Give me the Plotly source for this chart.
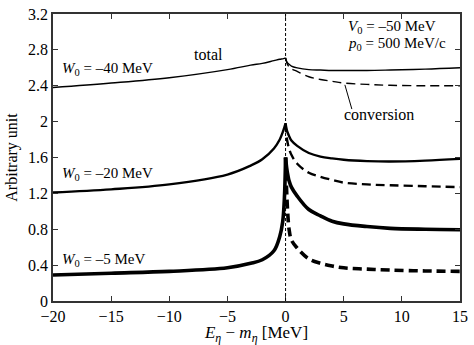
import plotly.graph_objects as go

# energy grids (MeV), below and above threshold
x_below = [-20, -15, -10, -5, -3, -2, -1, -0.5, -0.25, -0.1, 0]
x_above = [0, 0.1, 0.2, 0.3, 0.5, 1, 2, 3, 4, 5, 7, 9, 12, 15]

# W0 = -40 MeV
total_w40_below = [2.38, 2.43, 2.49, 2.58, 2.63, 2.65, 2.68, 2.695, 2.70, 2.705, 2.71]
total_w40_above = [2.71, 2.67, 2.65, 2.64, 2.62, 2.60, 2.58, 2.575, 2.57, 2.57, 2.57, 2.575, 2.585, 2.60]
conv_w40_above = [2.71, 2.66, 2.63, 2.61, 2.59, 2.56, 2.50, 2.47, 2.45, 2.43, 2.415, 2.405, 2.40, 2.40]

# W0 = -20 MeV
total_w20_below = [1.21, 1.245, 1.30, 1.41, 1.51, 1.58, 1.70, 1.80, 1.88, 1.94, 1.98]
total_w20_above = [1.98, 1.91, 1.87, 1.84, 1.79, 1.73, 1.65, 1.61, 1.59, 1.575, 1.56, 1.555, 1.565, 1.585]
conv_w20_above = [1.98, 1.82, 1.75, 1.70, 1.63, 1.53, 1.43, 1.385, 1.35, 1.32, 1.30, 1.29, 1.28, 1.27]

# W0 = -5 MeV
total_w5_below = [0.29, 0.31, 0.33, 0.37, 0.42, 0.46, 0.56, 0.72, 0.88, 1.15, 1.6]
total_w5_above = [1.6, 1.48, 1.40, 1.34, 1.27, 1.17, 1.02, 0.95, 0.89, 0.86, 0.83, 0.81, 0.80, 0.795]
conv_w5_above = [1.6, 1.2, 0.95, 0.80, 0.68, 0.59, 0.47, 0.42, 0.39, 0.37, 0.355, 0.345, 0.335, 0.33]

x_ticks = [-20, -15, -10, -5, 0, 5, 10, 15]
y_ticks = [0, 0.4, 0.8, 1.2, 1.6, 2, 2.4, 2.8, 3.2]
y_labels = ['0', '0.4', '0.8', '1.2', '1.6', '2', '2.4', '2.8', '3.2']

serif = 'Liberation Serif, Times New Roman, serif'

fig = go.Figure()

curves = [
    (total_w40_below, total_w40_above, conv_w40_above, 1.4),
    (total_w20_below, total_w20_above, conv_w20_above, 2.4),
    (total_w5_below, total_w5_above, conv_w5_above, 3.6),
]
for below, above, conv, lw in curves:
    # total, drawn in two pieces so the cusp at threshold stays sharp
    fig.add_trace(go.Scatter(x=x_below, y=below, mode='lines', line_shape='spline',
                             line=dict(color='black', width=lw), showlegend=False))
    fig.add_trace(go.Scatter(x=x_above, y=above, mode='lines', line_shape='spline',
                             line=dict(color='black', width=lw), showlegend=False))
    # conversion part (dashed)
    fig.add_trace(go.Scatter(x=x_above, y=conv, mode='lines', line_shape='spline',
                             line=dict(color='black', width=lw, dash='9px,5px'), showlegend=False))

# threshold line
fig.add_shape(type='line', x0=0, x1=0, y0=0, y1=3.2, xref='x', yref='y',
              line=dict(color='black', width=1, dash='3px,2px'))

# leader line for "conversion"
fig.add_shape(type='line', x0=5.1, x1=5.7, y0=2.41, y1=2.14, xref='x', yref='y',
              line=dict(color='black', width=1))

def label(x, y, text, anchor='left', size=16):
    fig.add_annotation(x=x, y=y, text=text, showarrow=False, xanchor=anchor,
                       font=dict(family=serif, size=size, color='black'))

label(-19.4, 2.59, '<i>W</i><sub>0</sub> = \u201340 MeV', size=15)
label(-19.4, 1.42, '<i>W</i><sub>0</sub> = \u201320 MeV', size=15)
label(-19.4, 0.46, '<i>W</i><sub>0</sub> = \u20135 MeV', size=15)
label(-6.6, 2.75, 'total', anchor='center')
label(8.0, 2.08, 'conversion', anchor='center')
label(5.2, 3.06, '<i>V</i><sub>0</sub> = \u201350 MeV', size=15)
label(5.2, 2.86, '<i>p</i><sub>0</sub> = 500 MeV/c', size=15)

axis_common = dict(showgrid=False, zeroline=False, showline=True, linecolor='#333333',
                   linewidth=1.5, mirror='ticks', ticks='inside', ticklen=5,
                   tickcolor='#333333', tickfont=dict(family=serif, size=16, color='black'),
                   ticklabeloverflow='allow')

fig.update_xaxes(range=[-20, 15], tickvals=x_ticks,
                 ticktext=[str(v).replace('-', '\u2212') for v in x_ticks],
                 title=dict(text='<i>E<sub>\u03b7</sub></i> \u2212 <i>m<sub>\u03b7</sub></i> [MeV]',
                            font=dict(family=serif, size=17, color='black'), standoff=2),
                 **axis_common)
fig.update_yaxes(range=[0, 3.2], tickvals=y_ticks, ticktext=y_labels,
                 title=dict(text='Arbitrary unit', font=dict(family=serif, size=16, color='black'),
                            standoff=6),
                 **axis_common)

fig.update_layout(
    width=474,
    height=345,
    margin=dict(l=53, r=9, t=6, b=44),
    plot_bgcolor='white',
    paper_bgcolor='white',
)

# drop the default 8px body margin so the figure fills the window
fig.write_html("out.html", config={'displayModeBar': False},
               post_script="document.body.style.margin='0';")
